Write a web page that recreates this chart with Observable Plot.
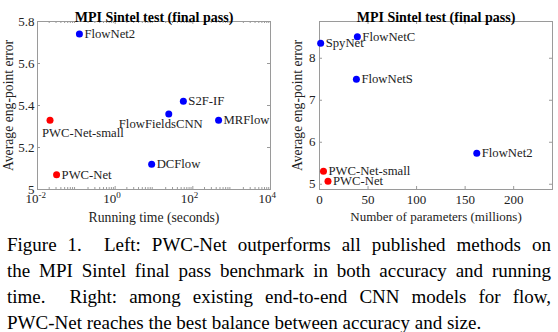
<!DOCTYPE html>
<html><head><meta charset="utf-8">
<script src="https://cdn.jsdelivr.net/npm/d3@7"></script>
<script src="https://cdn.jsdelivr.net/npm/@observablehq/plot@0.6"></script>
<style>
body{margin:0;background:#fff;}
#wrap{position:relative;width:558px;height:332px;overflow:hidden;}
#left{position:absolute;left:0;top:0}
#right{position:absolute;left:279px;top:0}
#wrap svg, #wrap svg text{font-family:"Liberation Serif",serif !important;}
#cap{position:absolute;left:7px;top:232px;width:544px;font-family:"Liberation Serif",serif;font-size:19px;line-height:26px;color:#000}
#cap span{display:block;text-align:justify;text-align-last:justify;white-space:nowrap}
#cap span.last{text-align-last:left}
</style></head><body>
<div id="wrap"><div id="left"></div><div id="right"></div>
<div id="cap">
<span>Figure 1.&nbsp; Left: PWC-Net outperforms all published methods on</span>
<span>the MPI Sintel final pass benchmark in both accuracy and running</span>
<span>time.&nbsp; Right: among existing end-to-end CNN models for flow,</span>
<span class="last">PWC-Net reaches the best balance between accuracy and size.</span>
</div></div>
<script>
// ---- data ----
const chartTitle = "MPI Sintel test (final pass)";
const yLabel = "Average eng-point error";

const leftMethods = ["FlowNet2", "S2F-IF", "FlowFieldsCNN", "MRFlow", "DCFlow", "PWC-Net-small", "PWC-Net"];
const leftTime = [0.12, 57, 24, 460, 8.7, 0.021, 0.031];
const leftEPE = [5.74, 5.42, 5.36, 5.33, 5.12, 5.33, 5.07];
const leftOurs = [false, false, false, false, false, true, true];
const leftXLabel = "Running time (seconds)";
const leftXTicks = [0.01, 1, 100, 10000];
const leftXExp = ["-2", "0", "2", "4"];
const leftYTicks = [5, 5.2, 5.4, 5.6, 5.8];

const rightMethods = ["SpyNet", "FlowNetC", "FlowNetS", "FlowNet2", "PWC-Net-small", "PWC-Net"];
const rightParams = [1.2, 39, 38, 162, 4.1, 8.75];
const rightEPE = [8.36, 8.51, 7.5, 5.74, 5.31, 5.07];
const rightOurs = [false, false, false, false, true, true];
const rightXLabel = "Number of parameters (millions)";
const rightXTicks = [0, 50, 100, 150, 200];
const rightYTicks = [5, 6, 7, 8];

// ---- build ----
const leftData = leftMethods.map((m, i) => ({m, x: leftTime[i], y: leftEPE[i], ours: leftOurs[i]}));
const rightData = rightMethods.map((m, i) => ({m, x: rightParams[i], y: rightEPE[i], ours: rightOurs[i]}));

const W = 279, H = 230, MT = 21, MB = 41;
const PH = H - MT - MB;
const frameColor = "#9a9a9a";
const txtColor = "#222";
const font = "Liberation Serif";
const BLUE = "#0000ff", RED = "#ff0000";

// label placement (layout only)
const place = {
  "FlowFieldsCNN": {textAnchor: "middle", dx: -8, dy: 10},
  "PWC-Net-small@left": {textAnchor: "start", dx: -8, dy: 13}
};

function labelMarks(data, side) {
  const def = data.filter(d => !place[d.m] && !place[d.m + "@" + side]);
  const marks = [Plot.text(def, {x: "x", y: "y", text: "m", textAnchor: "start", dx: 5, fill: txtColor, fontSize: 12.7, fontFamily: font})];
  for (const d of data) {
    const p = place[d.m] || place[d.m + "@" + side];
    if (p) marks.push(Plot.text([d], {x: "x", y: "y", text: "m", fill: txtColor, fontSize: 12.7, fontFamily: font, ...p}));
  }
  return marks;
}

function boxTicks(xt, yt, PW, len) {
  return [
    Plot.tickX(xt, {x: d => d, insetTop: PH - len, stroke: frameColor}),
    Plot.tickX(xt, {x: d => d, insetBottom: PH - len, stroke: frameColor}),
    Plot.tickY(yt, {y: d => d, insetRight: PW - len, stroke: frameColor}),
    Plot.tickY(yt, {y: d => d, insetLeft: PW - len, stroke: frameColor})
  ];
}

// Left chart
{
  const ML = 37, MR = 9, PW = W - ML - MR;
  const minor = [];
  for (let e = -2; e < 4; e++) for (let k = 2; k <= 9; k++) minor.push(k * Math.pow(10, e));
  const chart = Plot.plot({
    width: W, height: H, marginLeft: ML, marginRight: MR, marginTop: MT, marginBottom: MB,
    style: {fontFamily: font, fontSize: "13px", color: txtColor, background: "transparent"},
    x: {type: "log", domain: [0.01, 10000], axis: null},
    y: {domain: [5, 5.8], axis: null},
    marks: [
      Plot.frame({stroke: frameColor}),
      ...boxTicks(leftXTicks, leftYTicks, PW, 3),
      Plot.tickX(minor, {x: d => d, insetTop: PH - 2, stroke: frameColor}),
      Plot.tickX(minor, {x: d => d, insetBottom: PH - 2, stroke: frameColor}),
      Plot.text(leftYTicks, {y: d => d, frameAnchor: "left", dx: -3, textAnchor: "end", text: d => String(d), fontSize: 13, fill: txtColor, fontFamily: font}),
      Plot.text(leftXTicks, {x: d => d, frameAnchor: "bottom", dy: 13, dx: 1, text: () => "10", textAnchor: "end", fontSize: 13, fill: txtColor, fontFamily: font}),
      Plot.text(leftXTicks, {x: d => d, frameAnchor: "bottom", dy: 8, dx: 1, text: (d, i) => leftXExp[i], textAnchor: "start", fontSize: 9, fill: txtColor, fontFamily: font}),
      Plot.text([leftXLabel], {frameAnchor: "bottom", dy: 32, fontSize: 13.7, fill: txtColor, fontFamily: font}),
      Plot.text([yLabel], {frameAnchor: "left", dx: -29, rotate: -90, textAnchor: "middle", fontSize: 13.7, fill: txtColor, fontFamily: font}),
      Plot.text([chartTitle], {frameAnchor: "top", dy: -9, fontWeight: "bold", fontSize: 14, fill: "#000", fontFamily: font}),
      Plot.dot(leftData, {x: "x", y: "y", r: 3.5, fill: d => d.ours ? RED : BLUE, stroke: null}),
      ...labelMarks(leftData, "left")
    ]
  });
  document.getElementById("left").appendChild(chart);
}

// Right chart
{
  const ML = 40, MR = 6, PW = W - ML - MR;
  const chart = Plot.plot({
    width: W, height: H, marginLeft: ML, marginRight: MR, marginTop: MT, marginBottom: MB,
    style: {fontFamily: font, fontSize: "13px", color: txtColor, background: "transparent"},
    x: {domain: [0, 240], axis: null},
    y: {domain: [4.875, 8.875], axis: null},
    marks: [
      Plot.frame({stroke: frameColor}),
      ...boxTicks(rightXTicks, rightYTicks, PW, 3),
      Plot.text(rightYTicks, {y: d => d, frameAnchor: "left", dx: -4, textAnchor: "end", text: d => String(d), fontSize: 13, fill: txtColor, fontFamily: font}),
      Plot.text(rightXTicks, {x: d => d, frameAnchor: "bottom", dy: 14, text: d => String(d), fontSize: 13, fill: txtColor, fontFamily: font}),
      Plot.text([rightXLabel], {frameAnchor: "bottom", dy: 31, fontSize: 13, fill: txtColor, fontFamily: font}),
      Plot.text([yLabel], {frameAnchor: "left", dx: -22, rotate: -90, textAnchor: "middle", fontSize: 13.7, fill: txtColor, fontFamily: font}),
      Plot.text([chartTitle], {frameAnchor: "top", dy: -9, fontWeight: "bold", fontSize: 14, fill: "#000", fontFamily: font}),
      Plot.dot(rightData, {x: "x", y: "y", r: 3.5, fill: d => d.ours ? RED : BLUE, stroke: null}),
      ...labelMarks(rightData, "right")
    ]
  });
  document.getElementById("right").appendChild(chart);
}
</script>
</body></html>
